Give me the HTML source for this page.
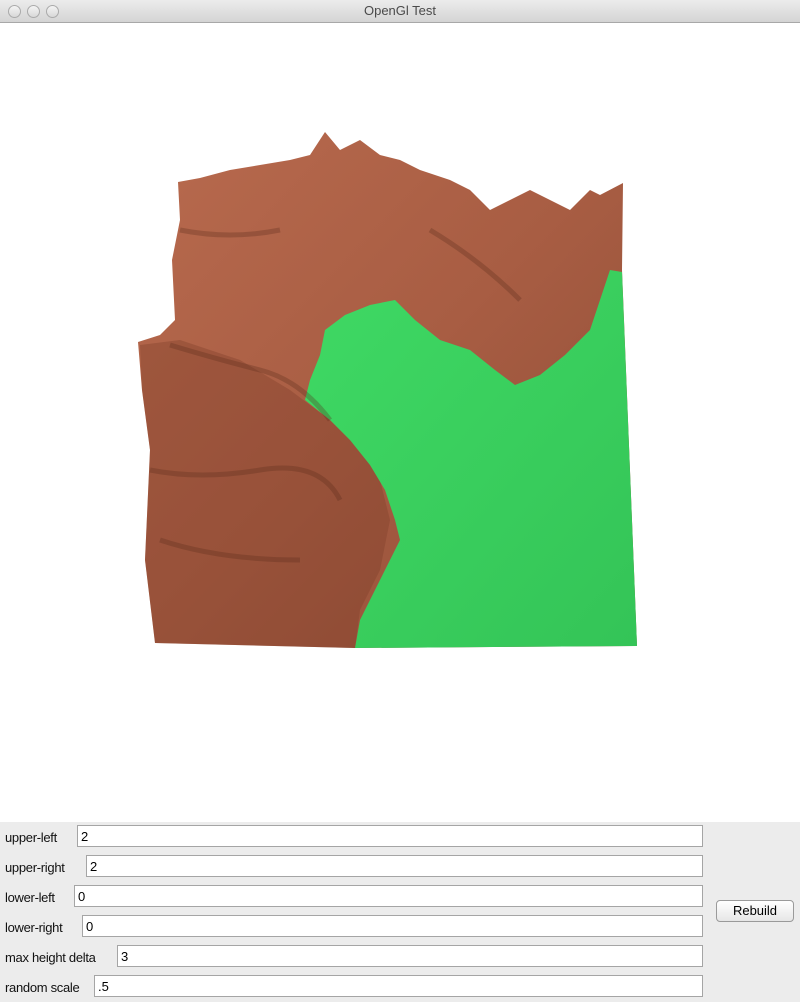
<!DOCTYPE html>
<html><head><meta charset="utf-8">
<style>
html,body{margin:0;padding:0;width:800px;height:1002px;overflow:hidden;background:#fff;font-family:"Liberation Sans",sans-serif}
#titlebar{position:absolute;left:0;top:0;width:800px;height:22px;background:linear-gradient(#ececec,#d4d4d4);border-bottom:1px solid #a8a8a8;text-align:center;font-size:13px;line-height:22px;color:#4a4a4a}
.dot{position:absolute;top:5px;width:11px;height:11px;border-radius:50%;border:1px solid #aaa;background:linear-gradient(#f4f4f4,#d8d8d8)}
#panel{position:absolute;left:0;top:822px;width:800px;height:180px;background:#ececec}
.lbl{position:absolute;left:5px;font-size:13px;color:#111;letter-spacing:-0.3px}
.inp{position:absolute;height:22px;border:1px solid #a5a5a5;background:#fff;font-size:13px;line-height:21px;padding-left:3px;box-sizing:border-box;right:97px}
#rebuild{position:absolute;left:716px;top:900px;width:76px;height:20px;border:1px solid #9a9a9a;border-radius:4px;background:linear-gradient(#fff,#e6e6e6);font-size:13px;text-align:center;line-height:19px}
</style></head><body>
<div id="titlebar">
<span class="dot" style="left:8px"></span>
<span class="dot" style="left:27px"></span>
<span class="dot" style="left:46px"></span>
<span>OpenGl Test</span></div>
<svg width="800" height="800" style="position:absolute;left:0;top:23px">
<defs>
<linearGradient id="br" x1="0" y1="0" x2="1" y2="1"><stop offset="0" stop-color="#b86a4e"/><stop offset="0.5" stop-color="#a85d43"/><stop offset="1" stop-color="#8e4d36"/></linearGradient>
<linearGradient id="gr" x1="0" y1="0" x2="1" y2="1"><stop offset="0" stop-color="#3fd964"/><stop offset="1" stop-color="#34c457"/></linearGradient>
</defs>
<g transform="translate(0,-23)">
<polygon fill="url(#br)" points="178,182 200,178 230,170 260,165 290,160 310,155 325,132 340,150 360,140 380,155 400,160 420,170 450,180 470,190 490,210 510,200 530,190 550,200 570,210 590,190 600,195 623,183 622,270 637,646 355,648 155,643 145,560 150,450 142,390 138,342 160,335 175,320 172,260 180,220"/>
<polygon fill="#7a3d28" opacity="0.35" points="140,345 180,340 240,360 290,390 330,420 360,450 380,480 390,520 380,570 360,610 355,648 155,643 145,560 150,450 142,390"/>
<polygon fill="url(#gr)" points="610,270 622,272 637,646 355,648 360,620 370,600 385,570 400,540 395,520 385,490 370,465 350,440 330,420 305,400 310,380 320,355 325,330 345,315 370,305 395,300 415,320 440,340 470,350 495,370 515,385 540,375 565,355 590,330 600,300"/>
<path d="M170 345 Q220 360 260 370 T330 420 M150 470 Q200 480 260 470 T340 500 M160 540 Q220 560 300 560 M180 230 Q230 240 280 230 M430 230 Q480 260 520 300" stroke="#5a2a1a" stroke-width="5" fill="none" opacity="0.3"/>
</g></svg>
<div id="panel"></div>
<span class="lbl" style="top:830px">upper-left</span>
<div class="inp" style="left:77px;top:825px">2</div>
<span class="lbl" style="top:860px">upper-right</span>
<div class="inp" style="left:86px;top:855px">2</div>
<span class="lbl" style="top:890px">lower-left</span>
<div class="inp" style="left:74px;top:885px">0</div>
<span class="lbl" style="top:920px">lower-right</span>
<div class="inp" style="left:82px;top:915px">0</div>
<span class="lbl" style="top:950px">max height delta</span>
<div class="inp" style="left:117px;top:945px">3</div>
<span class="lbl" style="top:980px">random scale</span>
<div class="inp" style="left:94px;top:975px">.5</div>
<div id="rebuild">Rebuild</div>
</body></html>
